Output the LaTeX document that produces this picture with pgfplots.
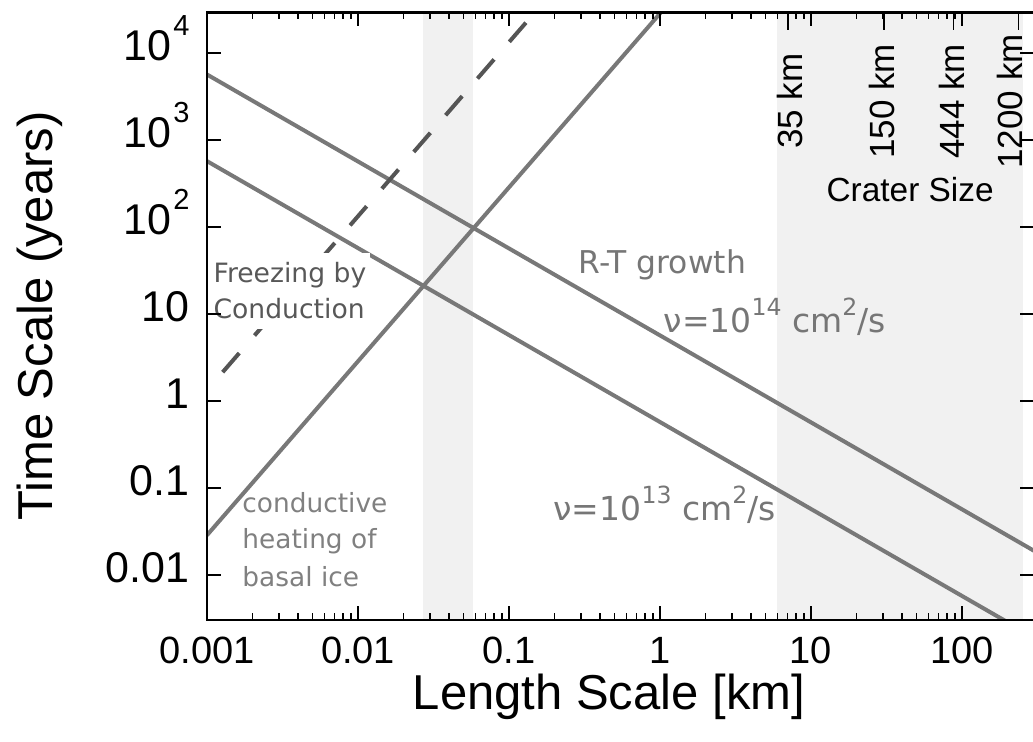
\documentclass[border=0pt]{standalone}
\usepackage{fontspec}
\setmainfont{Liberation Sans}
\newfontfamily\dejavu{DejaVu Sans}
\usepackage{graphicx}
\usepackage{pgfplots}
\pgfplotsset{compat=1.18}
\definecolor{lineg}{RGB}{120,120,120}
\definecolor{dashg}{RGB}{85,85,85}
\definecolor{shadeg}{RGB}{241,241,241}
\definecolor{txtg}{RGB}{118,118,118}
\definecolor{txtd}{RGB}{88,88,88}
\definecolor{txtl}{RGB}{128,128,128}
\newcommand\ysup[1]{\kern1pt\raisebox{12.5pt}{\fontsize{14.5}{14.5}\selectfont #1}}
\newcommand\nsup[1]{\raisebox{8.5pt}{\fontsize{11.8}{11.8}\selectfont #1}}
\begin{document}
\begin{tikzpicture}
\begin{axis}[
  at={(0,0)}, anchor=south west,
  scale only axis, width=413.5pt, height=303.85pt,
  xmode=log, ymode=log,
  xmin=0.001, xmax=300, ymin=0.00304, ymax=2.96e4,
  axis on top,
  axis line style={line width=1.3pt, black},
  every tick/.style={black, line width=0.9pt},
  major tick length=7pt, minor tick length=3.5pt,
  xtick={0.001,0.01,0.1,1,10,100},
  xticklabels={0.001,0.01,0.1,1,10,100},
  ytick={0.01,0.1,1,10,100,1000,10000},
  yticklabels={0.01,0.1,1,10,10\ysup{2},10\ysup{3},10\ysup{4}},
  yminorticks=false,
  xticklabel style={font=\fontsize{19}{19}\selectfont, anchor=base, inner sep=0pt, yshift=-22pt},
  yticklabel style={font=\fontsize{21.5}{21.5}\selectfont, anchor=base east, inner sep=0pt, xshift=-8.5pt, yshift=-3.75pt},
  xlabel={Length Scale [km]},
  ylabel={Time Scale (years)},
  xlabel style={font=\fontsize{24.5}{24.5}\selectfont, at={(axis description cs:0.486,-0.1465)}, anchor=base, inner sep=0pt},
  ylabel style={font=\fontsize{24.5}{24.5}\selectfont, at={(axis description cs:-0.1874,0.5)}, anchor=base, inner sep=0pt},
]
% shaded bands
\addplot[fill=shadeg, draw=none] coordinates {(0.027,0.001) (0.058,0.001) (0.058,1e5) (0.027,1e5)};
\addplot[fill=shadeg, draw=none] coordinates {(5.96,0.001) (254,0.001) (254,1e5) (5.96,1e5)};
% viscous relaxation lines
\addplot[lineg, line width=2pt] coordinates {(0.001,5700) (300,0.019)};
\addplot[lineg, line width=2pt] coordinates {(0.001,575) (300,0.001917)};
% conduction line
\addplot[lineg, line width=2pt] coordinates {(0.001,0.0287) (1.05,3.16e4)};
% freezing by conduction (dashed)
\addplot[dashg, line width=2pt, dash pattern=on 12.65pt off 11.65pt] coordinates {(0.00127,2.15) (0.131,2.3e4)};
% white box behind label
\addplot[fill=white, draw=none] coordinates {(0.0009,6.75) (0.01202,6.75) (0.01202,50.5) (0.0009,50.5)};
% annotations
\node[anchor=base west, inner sep=0pt, text=txtd, font=\dejavu\fontsize{13.3}{13.3}\selectfont] at (axis cs:0.0011,23.4) {Freezing by};
\node[anchor=base west, inner sep=0pt, text=txtd, font=\dejavu\fontsize{13.3}{13.3}\selectfont] at (axis cs:0.0011,9.03) {Conduction};
\node[anchor=base west, inner sep=0pt, text=txtl, font=\dejavu\fontsize{13.2}{13.2}\selectfont] at (axis cs:0.001706,0.05302) {conductive};
\node[anchor=base west, inner sep=0pt, text=txtl, font=\dejavu\fontsize{13.2}{13.2}\selectfont] at (axis cs:0.001706,0.02044) {heating of};
\node[anchor=base west, inner sep=0pt, text=txtl, font=\dejavu\fontsize{13.2}{13.2}\selectfont] at (axis cs:0.001706,0.007469) {basal ice};
\node[anchor=base west, inner sep=0pt, text=txtg, font=\dejavu\fontsize{15.7}{15.7}\selectfont] at (axis cs:0.2871,29.7) {R-T growth};
\node[anchor=base west, inner sep=0pt, text=txtg, font=\dejavu\fontsize{16.5}{16.5}\selectfont] at (axis cs:1.05,6.23) {ν=10\nsup{14} cm\nsup{2}/s};
\node[anchor=base west, inner sep=0pt, text=txtg, font=\dejavu\fontsize{16.5}{16.5}\selectfont] at (axis cs:0.196,0.04291) {ν=10\nsup{13} cm\nsup{2}/s};
% crater size
\node[anchor=base west, inner sep=0pt, font=\fontsize{16.7}{16.7}\selectfont] at (axis cs:12.62,195) {Crater Size};
\draw[black, line width=0.9pt] (axis cs:7.07,2.96e4) -- ++(0pt,-9pt);
\draw[black, line width=0.9pt] (axis cs:30.3,2.96e4) -- ++(0pt,-9pt);
\draw[black, line width=0.9pt] (axis cs:88.0,2.96e4) -- ++(0pt,-9pt);
\draw[black, line width=0.9pt] (axis cs:237,2.96e4) -- ++(0pt,-9pt);
\node[rotate=90, inner sep=0pt, font=\fontsize{17.5}{17.5}\selectfont] at (axis cs:7.29,2800) {35 km};
\node[rotate=90, inner sep=0pt, font=\fontsize{17.5}{17.5}\selectfont] at (axis cs:29.6,2800) {150 km};
\node[rotate=90, inner sep=0pt, font=\fontsize{17.5}{17.5}\selectfont] at (axis cs:86.3,2800) {444 km};
\node[rotate=90, inner sep=0pt, font=\fontsize{17.5}{17.5}\selectfont] at (axis cs:209,2800) {1200 km};
\end{axis}
\pgfresetboundingbox
\useasboundingbox (-103.5pt,-61pt) rectangle (413pt,310pt);
\end{tikzpicture}
\end{document}
